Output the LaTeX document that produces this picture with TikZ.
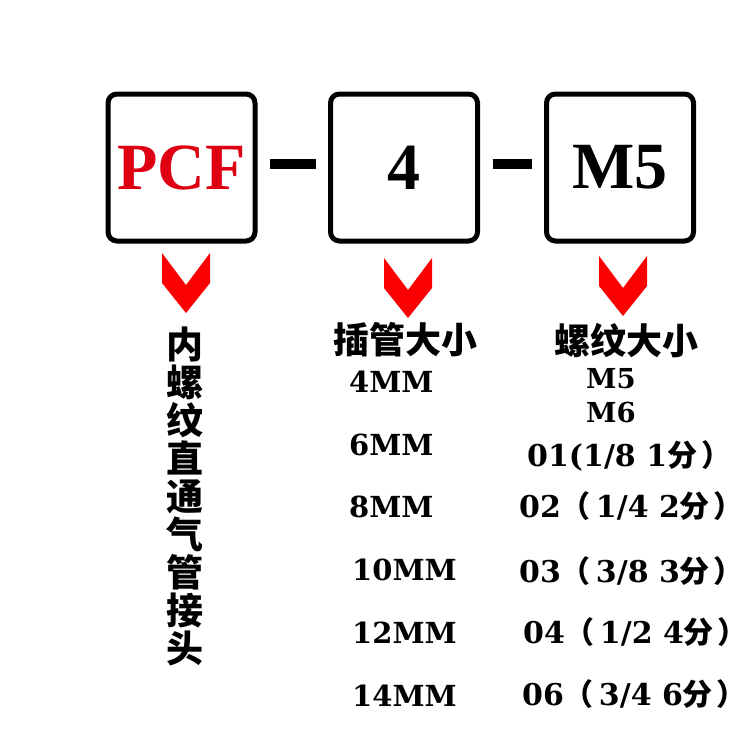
\documentclass[tikz,border=0pt]{standalone}
\usepackage{fontspec}
\setmainfont{Liberation Serif}
\newfontfamily\listfont{DejaVu Serif}
\newfontfamily\cjk{Noto Sans CJK SC}
\usetikzlibrary{positioning}
\definecolor{pcfred}{RGB}{222,0,18}
\definecolor{arrowred}{RGB}{250,0,0}
\tikzset{
  codebox/.style={draw, line width=5pt, rounded corners=9pt, minimum size=147pt, inner sep=0pt, font=\fontsize{66}{66}\selectfont\bfseries},
  joiner/.style={line width=10pt, shorten <=12.5pt, shorten >=12.5pt},
  cjklabel/.style={inner sep=0pt, font=\cjk\bfseries\fontsize{36}{36}\selectfont},
  sizeitem/.style={anchor=base west, inner sep=0pt, font=\listfont\fontsize{30}{30}\selectfont\bfseries},
  tubeitem/.style={sizeitem, font=\listfont\fontsize{29}{29}\selectfont\bfseries},
}
\newcommand{\chevron}[2]{\fill[arrowred] (#1-24,#2) -- (#1,#2+32) -- (#1+24,#2) -- (#1+24,#2+30) -- (#1,#2+60) -- (#1-24,#2+30) -- cycle;}
\newcommand{\lpar}{{\cjk\bfseries （}\hspace{5pt}}
\newcommand{\fen}{{\cjk\bfseries 分}\hspace{4pt}{\cjk\bfseries ）}}

\begin{document}
\begin{tikzpicture}[x=1pt,y=-1pt]
  \useasboundingbox (0,0) rectangle (750,750);

  % Code boxes
  \node[codebox, text=pcfred] (pcf) at (181.5,167.5) {PCF};
  \node[codebox] (size) at (404,167.5) {4};
  \node[codebox] (thread) at (620,167.5) {M5};

  % Joining dashes
  \draw[joiner] ([yshift=4pt]pcf.east) -- ([yshift=4pt]size.west);
  \draw[joiner] ([yshift=4pt]size.east) -- ([yshift=4pt]thread.west);

  % Red chevrons
  \chevron{186}{253}
  \chevron{408}{258}
  \chevron{623}{256}

  % Headings
  \node[cjklabel, align=center, font=\cjk\bfseries\fontsize{37}{37.9}\selectfont] (kind) at (185,496.5) {内\\螺\\纹\\直\\通\\气\\管\\接\\头};
  \node[cjklabel] (sizehead) at (405,340) {插管大小};
  \node[cjklabel] (threadhead) at (626,341) {螺纹大小};

  % Tube sizes
  \node[tubeitem] (s4) at (349,392) {4MM};
  \node[tubeitem] (s6) at (349,455) {6MM};
  \node[tubeitem] (s8) at (349,517) {8MM};
  \node[tubeitem] (s10) at (352,580) {10MM};
  \node[tubeitem] (s12) at (352,643) {12MM};
  \node[tubeitem] (s14) at (352,706) {14MM};

  % Thread sizes
  \node[sizeitem, anchor=base, font=\listfont\fontsize{27.5}{27.5}\selectfont\bfseries] (m5) at (611,388) {M5};
  \node[sizeitem, anchor=base, font=\listfont\fontsize{27.5}{27.5}\selectfont\bfseries] (m6) at (611,422) {M6};
  \node[sizeitem] (t01) at (527,466) {01(1/8 1\fen};
  \node[sizeitem] (t02) at (519,517) {02\lpar 1/4 2\fen};
  \node[sizeitem] (t03) at (519,582) {03\lpar 3/8 3\fen};
  \node[sizeitem] (t04) at (523,643) {04\lpar 1/2 4\fen};
  \node[sizeitem] (t06) at (522,705) {06\lpar 3/4 6\fen};
\end{tikzpicture}
\end{document}
